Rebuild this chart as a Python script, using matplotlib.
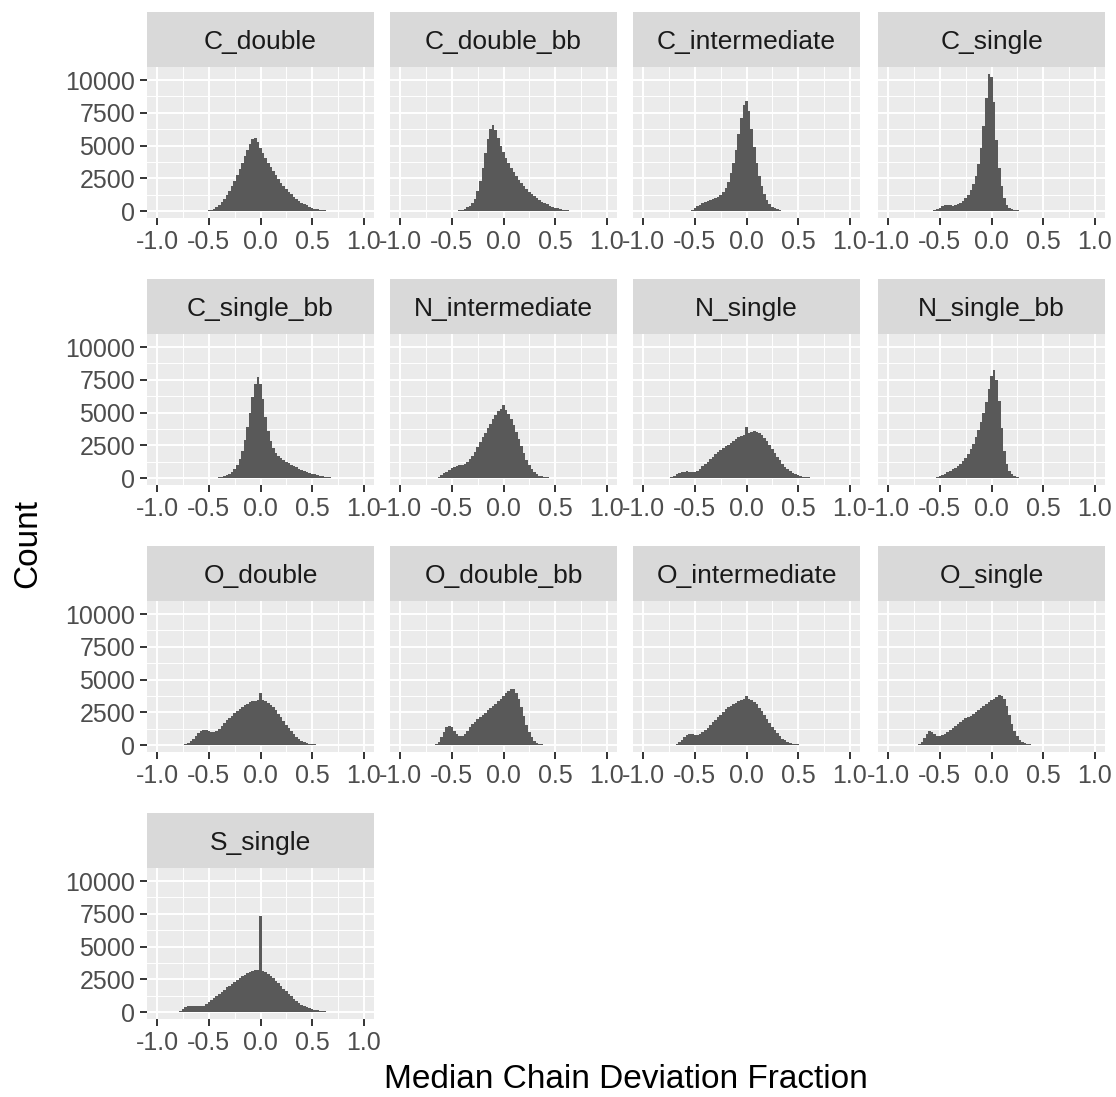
import numpy as np
import matplotlib.pyplot as plt

plt.rcParams['font.family'] = ['Liberation Sans', 'DejaVu Sans']

# facet names, in facet_wrap order
panel_names = ['C_double', 'C_double_bb', 'C_intermediate', 'C_single',
               'C_single_bb', 'N_intermediate', 'N_single', 'N_single_bb',
               'O_double', 'O_double_bb', 'O_intermediate', 'O_single',
               'S_single']

# histogram bins: centres -0.8 .. 0.8, width 0.025 (65 bins)
bin_w = 0.025
bin_centers = np.round(np.arange(-32, 33) * bin_w, 4)

# counts per bin (4 bins per 0.1, last value at 0.8)
c_double = [0, 0, 0, 0,  0, 0, 0, 0,  0, 0, 0, 20,  60, 120, 200, 320,
            480, 680, 920, 1200,  1520, 1900, 2300, 2750,  3200, 3700, 4200, 4700,
            5150, 5500, 5550, 5250,  4850, 4450, 4050, 3700,  3350, 3030, 2730, 2450,
            2180, 1930, 1700, 1480,  1280, 1100, 930, 780,  650, 530, 430, 340,
            260, 200, 150, 110,  80, 55, 40, 25,  15, 10, 5, 0,  0]
c_double_bb = [0, 0, 0, 0,  0, 0, 0, 0,  0, 0, 0, 0,  0, 10, 30, 60,
               110, 180, 280, 420,  620, 950, 1500, 2300,  3300, 4400, 5500, 6300,
               6600, 6200, 5600, 5000,  4500, 4050, 3650, 3280,  2950, 2650, 2380, 2130,
               1900, 1680, 1480, 1300,  1130, 980, 850, 720,  610, 510, 420, 340,
               270, 210, 160, 120,  85, 60, 40, 25,  12, 5, 0, 0,  0]
c_intermediate = [0, 0, 0, 0,  0, 0, 0, 0,  0, 10, 40, 120,  250, 380, 500, 600,
                  680, 760, 850, 930,  1000, 1100, 1250, 1450,  1750, 2250, 2900, 3700,
                  4700, 5900, 7100, 8100,  8400, 7600, 6300, 4900,  3700, 2700, 1900, 1300,
                  850, 550, 350, 220,  130, 80, 45, 25,  12, 6, 3, 1,
                  0, 0, 0, 0,  0, 0, 0, 0,  0, 0, 0, 0,  0]
c_single = [0, 0, 0, 0,  0, 0, 0, 0,  0, 10, 50, 150,  260, 360, 430, 470,
            450, 420, 440, 520,  640, 800, 1000, 1250,  1600, 2100, 2700, 3600,
            4800, 6500, 8600, 10470,  10200, 8300, 5400, 3300,  1900, 1000, 500, 250,
            140, 80, 50, 35,  25, 15, 5, 0,  0, 0, 0, 0,
            0, 0, 0, 0,  0, 0, 0, 0,  0, 0, 0, 0,  0]
c_single_bb = [0, 0, 0, 0,  0, 0, 0, 0,  0, 0, 0, 0,  0, 0, 10, 30,
               60, 100, 160, 240,  350, 500, 700, 1000,  1450, 2100, 2900, 3900,
               5000, 6200, 7200, 7750,  7200, 6000, 4700, 3600,  2800, 2300, 1950, 1700,
               1520, 1380, 1250, 1130,  1020, 920, 820, 730,  640, 560, 480, 410,
               350, 290, 240, 190,  150, 110, 80, 55,  35, 20, 10, 0,  0]
n_intermediate = [0, 0, 0, 0,  0, 10, 40, 120,  250, 380, 500, 620,  740, 860, 960, 980,
                  1000, 1100, 1250, 1450,  1700, 2000, 2350, 2750,  3100, 3450, 3800, 4150,
                  4500, 4850, 5100, 5300,  5600, 5200, 4900, 4500,  4050, 3550, 3000, 2450,
                  1900, 1400, 1000, 700,  480, 320, 200, 130,  80, 50, 30, 15,
                  5, 0, 0, 0,  0, 0, 0, 0,  0, 0, 0, 0,  0]
n_single = [0, 10, 40, 100,  180, 280, 370, 440,  500, 510, 490, 480,  500, 580, 720, 900,
            1080, 1250, 1450, 1650,  1820, 1980, 2120, 2280,  2420, 2550, 2700, 2850,
            2980, 3100, 3200, 3300,  3900, 3450, 3530, 3560,  3550, 3450, 3280, 3050,
            2800, 2500, 2200, 1900,  1600, 1350, 1100, 880,  690, 520, 400, 300,
            220, 160, 120, 85,  60, 40, 25, 15,  8, 0, 0, 0,  0]
n_single_bb = [0, 0, 0, 0,  0, 0, 0, 0,  0, 10, 40, 90,  160, 240, 330, 430,
               540, 660, 790, 930,  1100, 1300, 1550, 1850,  2200, 2600, 3100, 3650,
               4300, 5000, 5800, 6800,  7800, 8250, 7500, 5900,  3800, 2100, 1100, 550,
               280, 150, 80, 45,  25, 10, 0, 0,  0, 0, 0, 0,
               0, 0, 0, 0,  0, 0, 0, 0,  0, 0, 0, 0,  0]
o_double = [0, 10, 30, 80,  170, 300, 480, 700,  900, 1050, 1120, 1120,  1080, 1020, 1000, 1080,
            1250, 1450, 1680, 1880,  2080, 2250, 2420, 2600,  2780, 2930, 3050, 3170,
            3270, 3350, 3400, 3450,  4000, 3420, 3380, 3250,  3080, 2880, 2650, 2400,
            2130, 1850, 1570, 1300,  1050, 820, 620, 460,  330, 230, 160, 110,
            75, 50, 30, 18,  10, 5, 0, 0,  0, 0, 0, 0,  0]
o_double_bb = [0, 0, 0, 0,  0, 10, 60, 250,  600, 1000, 1350, 1480,  1350, 1100, 880, 720,
               700, 850, 1100, 1350,  1600, 1800, 1980, 2150,  2320, 2480, 2650, 2820,
               2980, 3150, 3350, 3550,  3750, 3950, 4150, 4280,  4250, 3950, 3500, 2900,
               2200, 1550, 1000, 600,  350, 200, 110, 60,  35, 20, 10, 5,
               0, 0, 0, 0,  0, 0, 0, 0,  0, 0, 0, 0,  0]
o_intermediate = [0, 0, 0, 10,  40, 120, 250, 420,  600, 760, 870, 880,  780, 760, 850, 980,
                  1130, 1320, 1520, 1730,  1930, 2130, 2330, 2530,  2720, 2880, 3020, 3150,
                  3250, 3350, 3450, 3550,  3720, 3550, 3450, 3300,  3100, 2850, 2580, 2300,
                  2000, 1700, 1420, 1150,  900, 680, 500, 360,  250, 170, 120, 80,
                  55, 35, 20, 10,  0, 0, 0, 0,  0, 0, 0, 0,  0]
o_single = [0, 0, 0, 10,  60, 250, 550, 850,  1050, 1000, 850, 720,  680, 750, 870, 1000,
            1130, 1300, 1480, 1650,  1800, 1930, 2050, 2150,  2250, 2380, 2530, 2680,
            2830, 2980, 3130, 3280,  3420, 3550, 3680, 3800,  3780, 3500, 2950, 2300,
            1650, 1100, 700, 420,  250, 150, 90, 55,  35, 20, 12, 5,
            0, 0, 0, 0,  0, 0, 0, 0,  0, 0, 0, 0,  0]
s_single = [20, 100, 250, 400,  480, 500, 480, 450,  440, 450, 500, 620,  780, 950, 1100, 1250,
            1400, 1560, 1720, 1880,  2030, 2180, 2330, 2470,  2600, 2730, 2850, 2950,
            3040, 3120, 3180, 3220,  7300, 3150, 3050, 2900,  2750, 2580, 2400, 2200,
            2000, 1800, 1600, 1400,  1200, 1020, 860, 710,  580, 460, 360, 280,
            215, 165, 125, 95,  70, 50, 35, 25,  15, 10, 5, 0,  0]

counts = [c_double, c_double_bb, c_intermediate, c_single,
          c_single_bb, n_intermediate, n_single, n_single_bb,
          o_double, o_double_bb, o_intermediate, o_single,
          s_single]

x_ticks = [-1.0, -0.5, 0.0, 0.5, 1.0]
x_ticklabels = ['-1.0', '-0.5', '0.0', '0.5', '1.0']
y_ticks = [0, 2500, 5000, 7500, 10000]
y_ticklabels = ['0', '2500', '5000', '7500', '10000']

##################

W, H = 1116, 1097
fig = plt.figure(figsize=(W / 100, H / 100), dpi=100)
fig.patch.set_facecolor('white')

col_x = [147, 390, 633, 878]
row_top = [67, 334, 601, 868]
pw, ph, strip_h = 227, 151, 55

edges = np.append(bin_centers - bin_w / 2, bin_centers[-1] + bin_w / 2)
ymax = max(max(c) for c in counts)

for i, (name, cnt) in enumerate(zip(panel_names, counts)):
    r, c = divmod(i, 4)
    x0, top = col_x[c], row_top[r]
    ax = fig.add_axes([x0 / W, 1 - (top + ph) / H, pw / W, ph / H])
    ax.set_facecolor('#EBEBEB')
    ax.stairs(cnt, edges, fill=True, color='#595959', linewidth=0)
    ax.set_xlim(-1.1, 1.1)
    ax.set_ylim(-0.05 * ymax, 1.05 * ymax)
    ax.set_xticks(x_ticks)
    ax.set_xticklabels(x_ticklabels)
    ax.set_xticks([-0.75, -0.25, 0.25, 0.75], minor=True)
    ax.set_yticks(y_ticks)
    ax.set_yticklabels(y_ticklabels)
    ax.set_yticks([1250, 3750, 6250, 8750], minor=True)
    ax.grid(which='major', color='white', linewidth=1.4)
    ax.grid(which='minor', color='white', linewidth=0.7)
    ax.set_axisbelow(True)
    for sp in ax.spines.values():
        sp.set_visible(False)
    ax.tick_params(which='major', length=5, width=1.4, color='#333333',
                   labelsize=18, labelcolor='#4D4D4D', pad=3.5)
    ax.tick_params(which='minor', length=0)
    if c != 0:
        ax.tick_params(axis='y', left=False, labelleft=False)

    # facet strip
    sax = fig.add_axes([x0 / W, 1 - top / H, pw / W, strip_h / H])
    sax.set_facecolor('#D9D9D9')
    sax.set_xticks([])
    sax.set_yticks([])
    for sp in sax.spines.values():
        sp.set_visible(False)
    sax.text(0.5, 0.45, name, ha='center', va='center', fontsize=19,
             color='#1A1A1A', transform=sax.transAxes)

fig.text(626 / W, 1 - 1080 / H, 'Median Chain Deviation Fraction',
         ha='center', va='center', fontsize=24)
fig.text(28 / W, 1 - 543 / H, 'Count', rotation=90,
         ha='center', va='center', fontsize=24)

fig.savefig('out.png', dpi=100)
